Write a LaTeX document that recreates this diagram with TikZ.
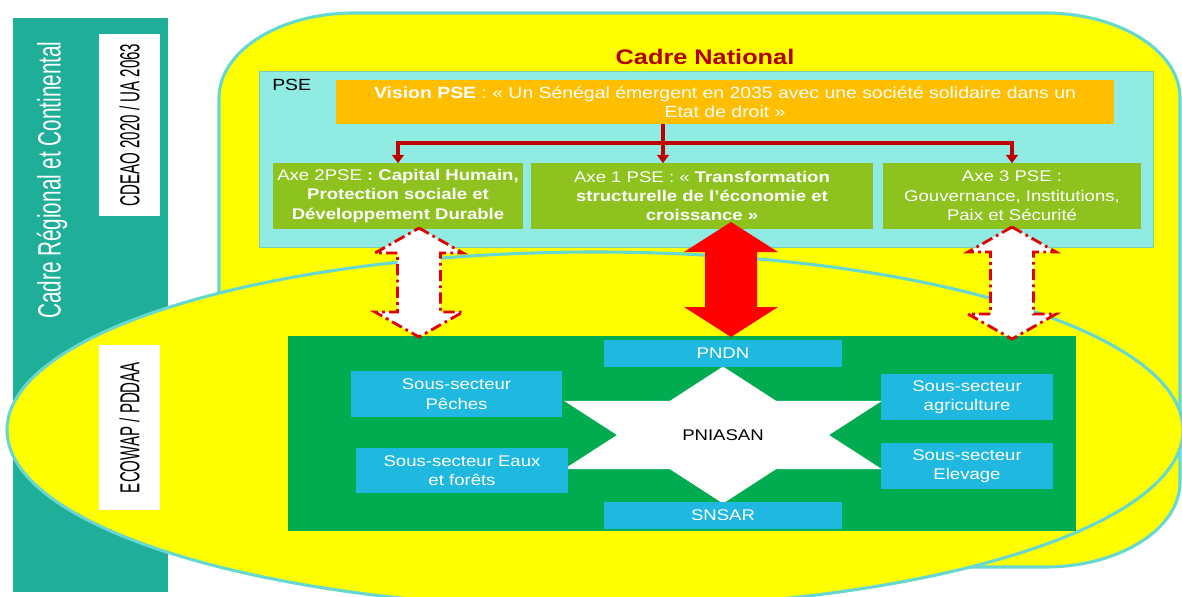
\documentclass[tikz,border=0pt]{standalone}
\usepackage{fontspec}
\setmainfont{Liberation Sans}[FakeStretch=1.2]
\newfontfamily\narrowfont{Liberation Sans}[FakeStretch=0.64]
\newfontfamily\tightfont{Liberation Sans}[FakeStretch=0.55]
\usepackage{tikz}
\usetikzlibrary{arrows.meta,calc}
\definecolor{regteal}{HTML}{1FAF99}
\definecolor{zone}{HTML}{FFFF00}
\definecolor{zoneline}{HTML}{66D8D0}
\definecolor{psefill}{HTML}{90EBE3}
\definecolor{pseline}{HTML}{7CCFA8}
\definecolor{orangebox}{HTML}{FFBF00}
\definecolor{axegreen}{HTML}{8DC21F}
\definecolor{deepred}{HTML}{B00000}
\definecolor{linkred}{HTML}{C00000}
\definecolor{pniagreen}{HTML}{00AC4F}
\definecolor{subblue}{HTML}{1EB8E0}
\definecolor{hot}{HTML}{FF0000}
\definecolor{dashred}{HTML}{E00000}
% double arrow: style, top tip, bottom tip, half head, half shaft, head length
\newcommand{\dblarrow}[6]{%
  \draw[#1] (#2) -- ++(#4,#6) -- ++({#5-#4},0) -- ($(#3)+(#5,-#6)$) -- ++({#4-#5},0) -- (#3)
    -- ++({-#4},{-#6}) -- ++({#4-#5},0) -- ($(#2)+(-#5,#6)$) -- ++({#5-#4},0) -- cycle;}

\begin{document}
\begin{tikzpicture}[x=0.025cm,y=-0.025cm,
  sz/.style 2 args={minimum width=#1*0.025cm,minimum height=#2*0.025cm},
  box/.style={fill=#1,inner sep=2pt,align=center},
  box/.default=white,
  zoneshape/.style={fill=zone,draw=zoneline,line width=2.2pt},
  vtxt/.style={rotate=90,font=\narrowfont\fontsize{23}{25}\selectfont},
  stxt/.style={rotate=90,font=\tightfont\fontsize{19.5}{22}\selectfont},
  wtxt/.style={text=white,font=\fontsize{11}{13.8}\selectfont},
  lien/.style={draw=linkred,line width=2.8pt},
  fleche/.style={lien,-{Triangle[length=6pt,width=8.5pt]}},
  plein/.style={fill=hot,draw=none},
  trait/.style={fill=white,draw=dashred,line width=2pt,dash pattern=on 8pt off 3pt on 2pt off 3pt}]
\useasboundingbox (0,0) rectangle (1182,597);
% regional frame
\node[fill=regteal,sz={155}{574}] (region) at (90.5,305) {};
\node[vtxt,text=white] (regtxt) at (52,180) {Cadre Régional et Continental};
% national and sector zones
\path[zoneshape] (219,98) arc[start angle=180,end angle=270,x radius=135,y radius=85]
  -- (1045,13) arc[start angle=270,end angle=360,x radius=135,y radius=85]
  -- (1180,482) arc[start angle=0,end angle=90,x radius=135,y radius=85]
  -- (354,567) arc[start angle=90,end angle=180,x radius=135,y radius=85] -- cycle;
\path[zoneshape] (595,430) ellipse[x radius=588,y radius=178];
\node[box,stxt,sz={182}{61}] (cdeao) at (129.5,125) {CDEAO 2020 / UA 2063};
\node[box,stxt,sz={165}{61}] (ecowap) at (129.5,427.5) {ECOWAP / PDDAA};
% PSE
\node[font=\bfseries\fontsize{15}{17}\selectfont,text=deepred] (titre) at (705,57) {Cadre National};
\node[box=psefill,draw=pseline,line width=0.6pt,sz={894}{176}] (pse) at (706,159) {};
\node[anchor=north west,inner sep=0pt,font=\fontsize{11.5}{13}\selectfont] (pselbl) at (272,79) {PSE};
\node[box=orangebox,wtxt,font=\fontsize{11.5}{13.2}\selectfont,sz={778}{44}] (vision) at (725,102)
  {{\bfseries Vision PSE} : « Un Sénégal émergent en 2035 avec une société solidaire dans un\\Etat de droit »};
\node[box=axegreen,wtxt,sz={250}{65}] (axe2) at (398,196)
  {Axe 2PSE {\bfseries: Capital Humain,}\\{\bfseries Protection sociale et}\\{\bfseries Développement Durable}};
\node[box=axegreen,wtxt,sz={342}{65}] (axe1) at (702,196)
  {Axe 1 PSE : « {\bfseries Transformation}\\{\bfseries structurelle de l’économie et}\\{\bfseries croissance »}};
\node[box=axegreen,wtxt,sz={258}{65}] (axe3) at (1012,196)
  {Axe 3 PSE :\\Gouvernance, Institutions,\\Paix et Sécurité};
\coordinate (j) at (663,143);
\draw[lien] (vision.south -| j) -- (j);
\draw[fleche] (j) -| (axe2.north);
\draw[fleche] (j) -- (j |- axe1.north);
\draw[fleche] (j) -| (axe3.north);
% PNIASAN
\node[box=pniagreen,sz={788}{195}] (pnia) at (682,433.5) {};
\fill[white] (723,366.5) -- (776,400.8) -- (882,400.8) -- (829,435) -- (882,469.2) -- (776,469.2)
  -- (723,503.5) -- (670,469.2) -- (564,469.2) -- (617,435) -- (564,400.8) -- (670,400.8) -- cycle;
\node[font=\fontsize{11}{13}\selectfont] (pniasan) at (723,435) {PNIASAN};
\node[box=subblue,wtxt,sz={238}{27}] (pndn) at (723,353.5) {PNDN};
\node[box=subblue,wtxt,sz={238}{27}] (snsar) at (723,515.5) {SNSAR};
\node[box=subblue,wtxt,sz={211}{46}] (peches) at (456.5,394) {Sous-secteur\\Pêches};
\node[box=subblue,wtxt,sz={212}{45}] (eaux) at (462,470.5) {Sous-secteur Eaux\\et forêts};
\node[box=subblue,wtxt,sz={172}{46}] (agri) at (967,397) {Sous-secteur\\agriculture};
\node[box=subblue,wtxt,sz={172}{46}] (elev) at (967,466) {Sous-secteur\\Elevage};
% links between PSE axes and PNIASAN
\coordinate (t2) at (419,228); \coordinate (b2) at (419,337);
\coordinate (t1) at (731,222); \coordinate (b1) at (731,337);
\coordinate (t3) at (1012,227); \coordinate (b3) at (1012,339);
\dblarrow{trait}{t2}{b2}{44}{21.5}{25}
\dblarrow{plein}{t1}{b1}{47}{26}{30}
\dblarrow{trait}{t3}{b3}{44}{21.5}{25}
\end{tikzpicture}
\end{document}
